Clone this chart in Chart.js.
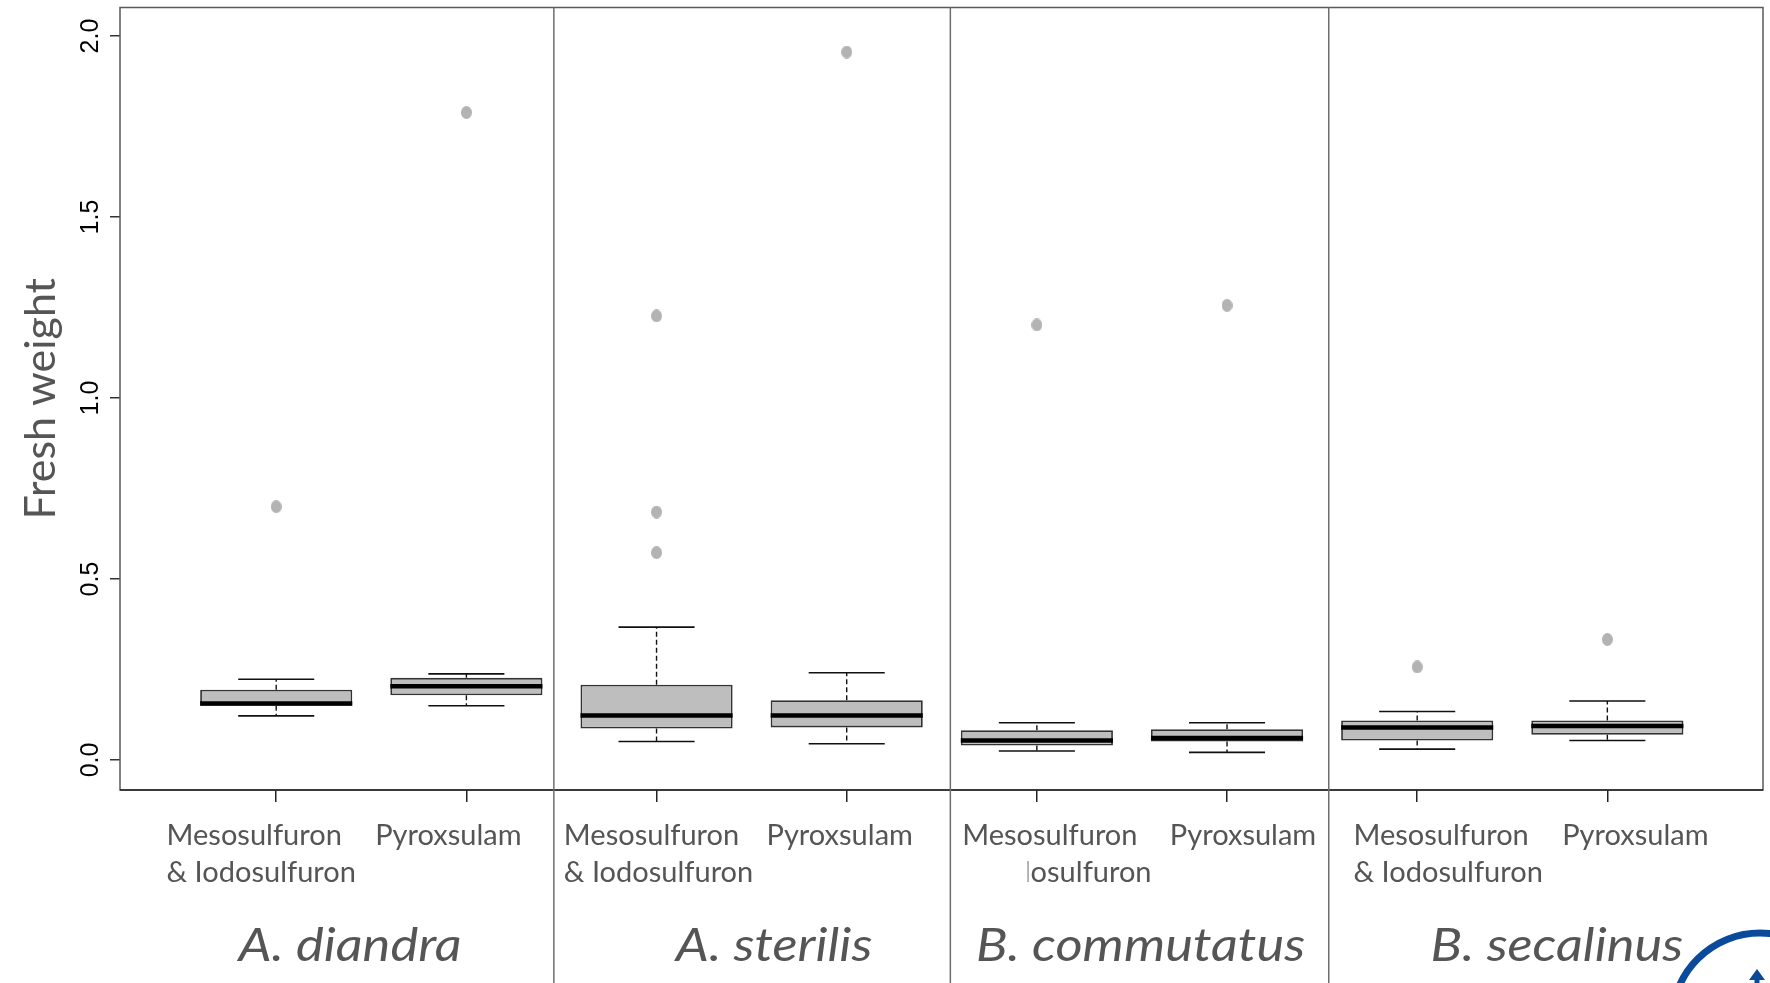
<!DOCTYPE html>
<html>
<head>
<meta charset="utf-8">
<script src="https://cdn.jsdelivr.net/npm/chart.js@4.4.1/dist/chart.umd.min.js"></script>
<style>
  html, body { margin: 0; padding: 0; background: #ffffff; }
  #wrap { width: 1770px; height: 983px; position: relative; }
  canvas { display: block; }
</style>
</head>
<body>
<div id="wrap"><canvas id="c" width="1770" height="983"></canvas></div>
<script>
// ---------------- data ----------------
const species = ['A. diandra', 'A. sterilis', 'B. commutatus', 'B. secalinus'];
const treatments = [
  ['Mesosulfuron', '& Iodosulfuron'], ['Pyroxsulam'],
  ['Mesosulfuron', '& Iodosulfuron'], ['Pyroxsulam'],
  ['Mesosulfuron', '& Iodosulfuron'], ['Pyroxsulam'],
  ['Mesosulfuron', '& Iodosulfuron'], ['Pyroxsulam']
];
const positions    = [1, 2, 3, 4, 5, 6, 7, 8];
const lowerWhisker = [0.122, 0.150, 0.051, 0.045, 0.025, 0.021, 0.030, 0.054];
const q1           = [0.150, 0.179, 0.087, 0.090, 0.040, 0.051, 0.054, 0.070];
const median       = [0.156, 0.204, 0.123, 0.123, 0.054, 0.061, 0.090, 0.094];
const q3           = [0.194, 0.227, 0.208, 0.165, 0.082, 0.085, 0.109, 0.109];
const upperWhisker = [0.223, 0.238, 0.367, 0.241, 0.103, 0.103, 0.134, 0.163];
const outliers     = [[0.700], [1.789], [1.227, 0.685, 0.573], [1.956], [1.202], [1.256], [0.257], [0.333]];
const yTickValues  = [0, 0.5, 1.0, 1.5, 2.0];
const yTickLabels  = ['0.0', '0.5', '1.0', '1.5', '2.0'];
const yTitle       = 'Fresh weight';

// ---------------- layout / style constants ----------------
const X_MIN = 0.1785, X_MAX = 8.8185;
const Y_MIN = -0.0829, Y_MAX = 2.079;
const BOX_HALF = 0.4;      // boxwex 0.8
const CAP_HALF = 0.2;      // staple width
const dividerAt = [2.46, 4.545, 6.535];
const labelNudge = [-15, -18, 2, -7, 20, 16, 31, 28];
const titleNudge = [13, 22, 1, 11];
const LABEL_COLOR = '#555555';

// ---------------- derived datasets ----------------
const boxData = positions.map((p, i) => ({ x: p, y: [q1[i], q3[i]] }));
const whiskerData = [];
positions.forEach((p, i) => {
  whiskerData.push({ x: p, y: q3[i] }, { x: p, y: upperWhisker[i] }, { x: p, y: null });
  whiskerData.push({ x: p, y: q1[i] }, { x: p, y: lowerWhisker[i] }, { x: p, y: null });
});
const capData = [];
positions.forEach((p, i) => {
  capData.push({ x: p - CAP_HALF, y: upperWhisker[i] }, { x: p + CAP_HALF, y: upperWhisker[i] }, { x: p, y: null });
  capData.push({ x: p - CAP_HALF, y: lowerWhisker[i] }, { x: p + CAP_HALF, y: lowerWhisker[i] }, { x: p, y: null });
});
const medianData = [];
positions.forEach((p, i) => {
  medianData.push({ x: p - BOX_HALF, y: median[i] }, { x: p + BOX_HALF, y: median[i] }, { x: p, y: null });
});
const outlierData = [];
positions.forEach((p, i) => outliers[i].forEach(v => outlierData.push({ x: p, y: v })));

function ellipseSprite(w, h, color) {
  const c = document.createElement('canvas');
  c.width = w; c.height = h;
  const g = c.getContext('2d');
  g.fillStyle = color;
  g.beginPath();
  g.ellipse(w / 2, h / 2, w / 2, h / 2, 0, 0, Math.PI * 2);
  g.fill();
  return c;
}
const dotSprite = ellipseSprite(11, 13, '#b3b3b3');

// ---------------- decoration plugin ----------------
const decor = {
  id: 'decor',
  afterDraw(chart) {
    const ctx = chart.ctx;
    const xs = chart.scales.x;
    const ca = chart.chartArea;
    const H = chart.height;
    ctx.save();

    // plot frame
    ctx.lineWidth = 1.5;
    ctx.strokeStyle = '#5a5a5a';
    ctx.strokeRect(ca.left, ca.top, ca.right - ca.left, ca.bottom - ca.top);
    ctx.strokeStyle = '#222222';
    ctx.beginPath(); ctx.moveTo(ca.left, ca.bottom); ctx.lineTo(ca.right, ca.bottom); ctx.stroke();

    // group dividers
    ctx.strokeStyle = '#6e6e6e';
    ctx.lineWidth = 1.5;
    const divPx = dividerAt.map(v => xs.getPixelForValue(v));
    divPx.forEach(px => {
      ctx.beginPath(); ctx.moveTo(px, ca.top); ctx.lineTo(px, H); ctx.stroke();
    });

    // treatment labels
    ctx.fillStyle = LABEL_COLOR;
    ctx.textBaseline = 'alphabetic';
    ctx.textAlign = 'left';
    ctx.font = '29px Lato, "Open Sans", sans-serif';
    treatments.forEach((lines, i) => {
      const cx = xs.getPixelForValue(positions[i]) + labelNudge[i];
      const w = Math.max(...lines.map(l => ctx.measureText(l).width));
      const left = cx - w / 2;
      lines.forEach((l, j) => {
        const by = ca.bottom + 55 + j * 37;
        if (i === 4 && j === 1) {
          // partly hidden second line in the source figure
          const clipX = left + ctx.measureText('& Iod').width - 3;
          ctx.save();
          ctx.beginPath(); ctx.rect(clipX, by - 40, 400, 60); ctx.clip();
          ctx.fillText(l, left, by);
          ctx.restore();
        } else {
          ctx.fillText(l, left, by);
        }
      });
    });

    // species titles (slightly widened lettering as in the source)
    ctx.font = 'italic 46px Lato, "Open Sans", sans-serif';
    ctx.textAlign = 'center';
    const bounds = [ca.left, ...divPx, ca.right];
    species.forEach((s, k) => {
      const cx = (bounds[k] + bounds[k + 1]) / 2 + titleNudge[k];
      ctx.save();
      ctx.translate(cx, ca.bottom + 171);
      ctx.scale(1.14, 1);
      ctx.fillText(s, 0, 0);
      ctx.restore();
    });

    // corner logo fragment
    ctx.strokeStyle = '#0b4a9b';
    ctx.fillStyle = '#0b4a9b';
    ctx.lineWidth = 7;
    ctx.beginPath(); ctx.arc(1760, 1021, 88, 0, Math.PI * 2); ctx.stroke();
    ctx.beginPath(); ctx.moveTo(1757, 969); ctx.lineTo(1765, 980); ctx.lineTo(1749, 980); ctx.closePath(); ctx.fill();
    ctx.fillRect(1754.5, 978, 5, 6);

    ctx.restore();
  }
};

// ---------------- chart ----------------
new Chart(document.getElementById('c'), {
  type: 'bar',
  data: {
    datasets: [
      {
        type: 'line', label: 'whiskers', data: whiskerData, order: 5,
        borderColor: '#111111', borderWidth: 1.4, borderDash: [5, 3],
        pointRadius: 0, spanGaps: false, fill: false
      },
      {
        type: 'line', label: 'staples', data: capData, order: 4,
        borderColor: '#111111', borderWidth: 1.6,
        pointRadius: 0, spanGaps: false, fill: false
      },
      {
        type: 'bar', label: 'boxes', data: boxData, order: 3,
        backgroundColor: '#bebebe', borderColor: '#333333', borderWidth: 1.8,
        borderSkipped: false, categoryPercentage: 1.0, barPercentage: 0.8
      },
      {
        type: 'line', label: 'medians', data: medianData, order: 2,
        borderColor: '#000000', borderWidth: 4.5, borderCapStyle: 'butt',
        pointRadius: 0, spanGaps: false, fill: false
      },
      {
        type: 'scatter', label: 'outliers', data: outlierData, order: 1,
        pointStyle: dotSprite, pointRadius: 6, showLine: false
      }
    ]
  },
  options: {
    responsive: false,
    animation: false,
    devicePixelRatio: 1,
    layout: { padding: { top: 7.5, right: 3, left: 0, bottom: 0 } },
    plugins: { legend: { display: false }, tooltip: { enabled: false } },
    scales: {
      x: {
        type: 'linear', min: X_MIN, max: X_MAX, offset: false,
        afterBuildTicks: s => { s.ticks = positions.map(v => ({ value: v })); },
        afterFit: s => { s.height = 193; s.paddingLeft = 0; s.paddingRight = 0; },
        ticks: { display: false },
        grid: { offset: false, drawOnChartArea: false, drawTicks: true, tickLength: 12, color: '#222222', lineWidth: 1.5 },
        border: { display: false }
      },
      y: {
        type: 'linear', min: Y_MIN, max: Y_MAX,
        afterBuildTicks: s => { s.ticks = yTickValues.map(v => ({ value: v })); },
        afterFit: s => { s.width = 120; s.paddingTop = 0; s.paddingBottom = 0; },
        ticks: {
          minRotation: 90, maxRotation: 90, crossAlign: 'center', padding: 2,
          color: '#000000',
          font: { family: '"Liberation Sans", Arial, sans-serif', size: 25 },
          callback: (v, i) => yTickLabels[i]
        },
        grid: { drawOnChartArea: false, drawTicks: true, tickLength: 10, color: '#333333', lineWidth: 1.5 },
        border: { display: false },
        title: {
          display: true, text: yTitle, color: LABEL_COLOR,
          font: { family: 'Lato, "Open Sans", sans-serif', size: 43 },
          padding: { top: 15, bottom: 0 }
        }
      }
    }
  },
  plugins: [decor]
});
</script>
</body>
</html>
